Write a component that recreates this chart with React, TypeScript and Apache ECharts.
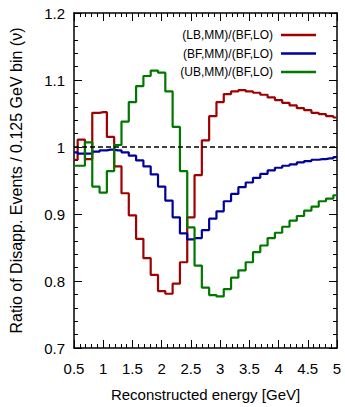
import React, { useEffect, useRef } from "react";
import * as echarts from "echarts";

const energies = [0.5, 0.625, 0.75, 0.875, 1, 1.125, 1.25, 1.375, 1.5, 1.625, 1.75, 1.875, 2, 2.125, 2.25, 2.375, 2.5, 2.625, 2.75, 2.875, 3, 3.125, 3.25, 3.375, 3.5, 3.625, 3.75, 3.875, 4, 4.125, 4.25, 4.375, 4.5, 4.625, 4.75, 4.875, 5];

const lbRatio = [0.981, 1.011, 0.982, 1.051, 1.052, 1.015, 0.971, 0.931, 0.898, 0.863, 0.834, 0.809, 0.785, 0.781, 0.796, 0.828, 0.895, 0.958, 1.010, 1.046, 1.067, 1.079, 1.083, 1.085, 1.083, 1.081, 1.078, 1.074, 1.070, 1.066, 1.062, 1.058, 1.055, 1.051, 1.049, 1.046, 1.044];
const bfRatio = [0.992, 0.990, 0.990, 0.993, 0.995, 0.996, 0.995, 0.992, 0.987, 0.980, 0.971, 0.959, 0.941, 0.920, 0.895, 0.871, 0.862, 0.864, 0.876, 0.893, 0.904, 0.919, 0.930, 0.940, 0.947, 0.954, 0.960, 0.965, 0.969, 0.972, 0.974, 0.977, 0.979, 0.981, 0.982, 0.983, 0.985];
const ubRatio = [0.972, 0.972, 1.007, 0.941, 0.932, 0.964, 1.003, 1.038, 1.067, 1.091, 1.106, 1.114, 1.111, 1.083, 1.030, 0.964, 0.880, 0.823, 0.790, 0.779, 0.777, 0.788, 0.805, 0.816, 0.828, 0.843, 0.853, 0.864, 0.872, 0.881, 0.890, 0.897, 0.905, 0.911, 0.919, 0.923, 0.928];

const seriesNames = ["(LB,MM)/(BF,LO)", "(BF,MM)/(BF,LO)", "(UB,MM)/(BF,LO)"];
const seriesColors = ["#a00000", "#00009a", "#007800"];
const referenceLine = [[0.5, 1], [5, 1]];

const FONT = "Liberation Sans, Arial, sans-serif";

export default function App() {
  const ref = useRef<HTMLDivElement>(null);
  useEffect(() => {
    if (!ref.current) return;
    const chart = echarts.init(ref.current, null, { renderer: "svg" });
    const data = [lbRatio, bfRatio, ubRatio];
    const axisCommon = {
      axisLine: { show: true, onZero: false, lineStyle: { color: "#000", width: 1.5 } },
      axisTick: { show: true, inside: true, length: 8, lineStyle: { color: "#000", width: 1 } },
      minorTick: { show: true, splitNumber: 5, length: 4, lineStyle: { color: "#000", width: 1 } },
      splitLine: { show: false },
    };
    chart.setOption({
      animation: false,
      backgroundColor: "#fff",
      textStyle: { fontFamily: FONT },
      grid: { left: 71, right: 8, top: 13, bottom: 54, containLabel: false },
      legend: {
        data: seriesNames,
        orient: "vertical",
        right: 24,
        top: 24,
        align: "right",
        icon: "rect",
        itemWidth: 35,
        itemHeight: 2.5,
        itemGap: 6.5,
        textStyle: { fontSize: 12, color: "#000", fontFamily: FONT, padding: [0, 3, 0, 0] },
      },
      xAxis: [
        {
          type: "value",
          min: 0.5,
          max: 5,
          interval: 0.5,
          position: "bottom",
          name: "Reconstructed energy [GeV]",
          nameLocation: "middle",
          nameGap: 39,
          nameTextStyle: { fontSize: 15, color: "#000", fontFamily: FONT },
          axisLabel: { fontSize: 15, color: "#000", margin: 13, fontFamily: FONT },
          ...axisCommon,
        },
        {
          type: "value",
          min: 0.5,
          max: 5,
          interval: 0.5,
          position: "top",
          axisLabel: { show: false },
          ...axisCommon,
        },
      ],
      yAxis: [
        {
          type: "value",
          min: 0.7,
          max: 1.2,
          interval: 0.1,
          position: "left",
          name: "Ratio of Disapp. Events / 0.125 GeV bin (ν)",
          nameLocation: "middle",
          nameGap: 50,
          nameTextStyle: { fontSize: 16, color: "#000", fontFamily: FONT },
          axisLabel: { fontSize: 15, color: "#000", margin: 9, fontFamily: FONT },
          ...axisCommon,
        },
        {
          type: "value",
          min: 0.7,
          max: 1.2,
          interval: 0.1,
          position: "right",
          axisLabel: { show: false },
          ...axisCommon,
        },
      ],
      series: [
        ...seriesNames.map((name, i) => ({
          name,
          type: "line",
          step: "middle",
          xAxisIndex: 0,
          yAxisIndex: 0,
          symbol: "none",
          showSymbol: false,
          color: seriesColors[i],
          lineStyle: { color: seriesColors[i], width: 2.2 },
          data: energies.map((e, k) => [e, data[i][k]]),
        })),
        {
          name: "unity",
          type: "line",
          xAxisIndex: 0,
          yAxisIndex: 0,
          symbol: "none",
          silent: true,
          lineStyle: { color: "#000", width: 1.5, type: [5, 3] },
          data: referenceLine,
        },
      ],
    });
    return () => chart.dispose();
  }, []);
  return (
    <div
      ref={ref}
      style={{ position: "fixed", left: 0, top: 0, width: 345, height: 407, background: "#fff" }}
    />
  );
}
